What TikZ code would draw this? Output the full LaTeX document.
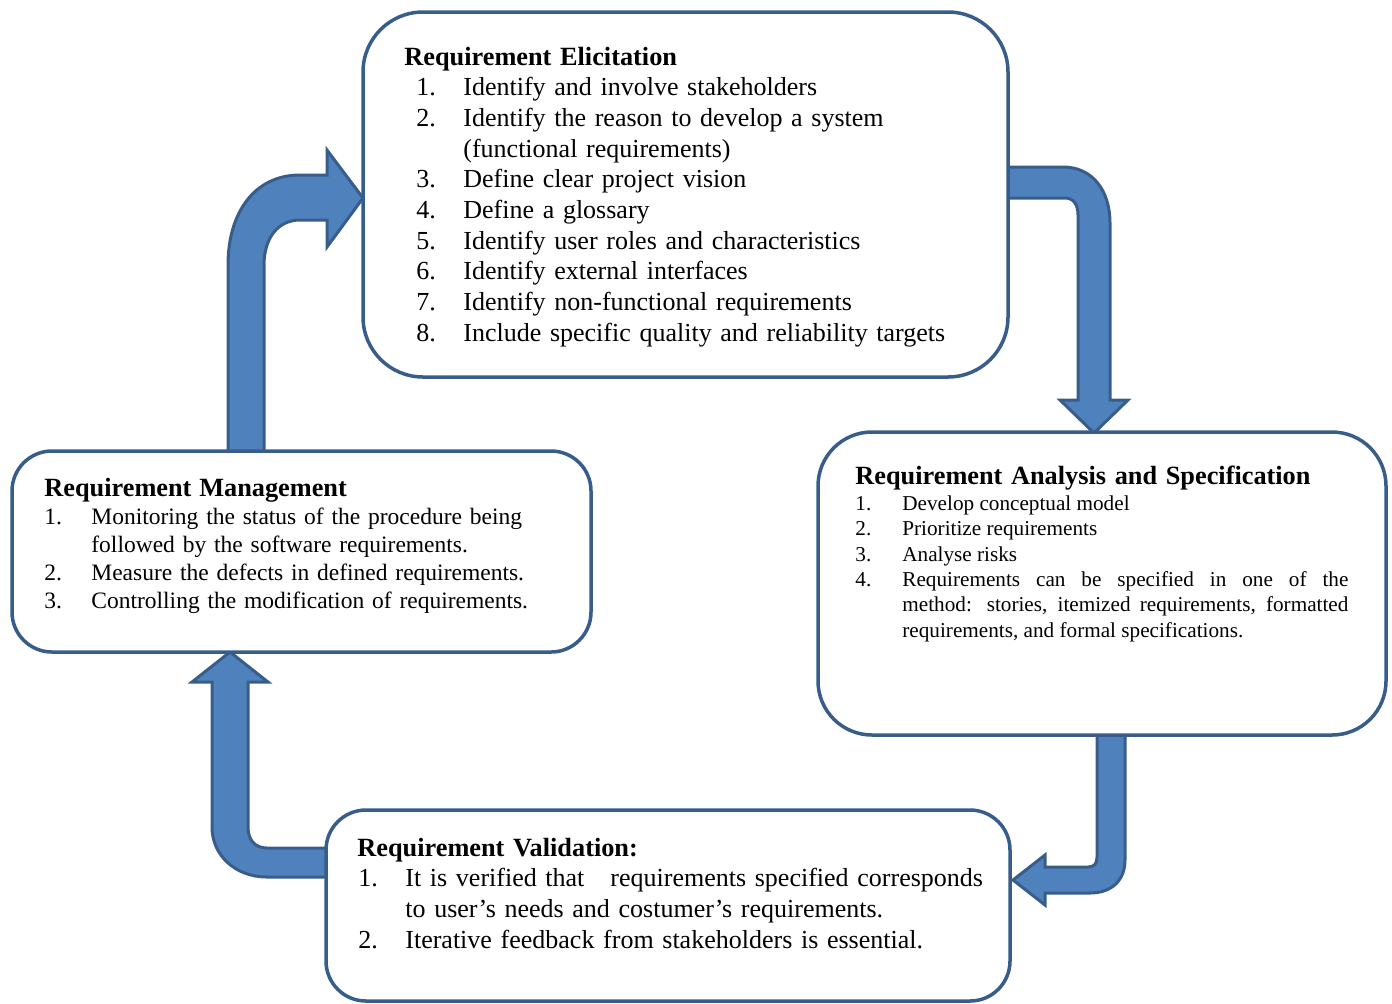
\documentclass[tikz,border=0pt]{standalone}
\usepackage{fontspec}
\setmainfont{Liberation Serif}
\definecolor{arrowfill}{HTML}{4F81BD}
\definecolor{arrowline}{HTML}{385D8A}
\newlength{\numind}
\newlength{\numgap}
\newcommand{\reqitem}[2]{\par\noindent\hangindent=\dimexpr\numind+\numgap\relax
  \hangafter=1\relax\hspace*{\numind}\makebox[\numgap][l]{#1}#2}
\newcommand{\phasetitle}[1]{\textbf{\fontsize{13.15}{\baselineskip}\selectfont #1}}
\tikzset{
  phase/.style={draw=arrowline, line width=1.75pt, fill=white, rounded corners=#1,
    inner sep=0pt, outer sep=0pt, anchor=north west},
  phase/.default=20pt,
  phasetext/.style={anchor=base west, inner sep=0pt, text width=#1},
  bigarrow/.style={fill=arrowfill, draw=arrowline, line width=1.5pt, line join=miter}
}
\begin{document}
\begin{tikzpicture}[x=0.5pt, y=-0.5pt]
\useasboundingbox (0,0) rectangle (1392,1003);

% block arrows round the cycle
\draw[bigarrow] (228,456) -- (228,265) .. controls (228,212) and (255,175) .. (300,175)
  -- (327,175) -- (327,150) -- (363,198) -- (327,247) -- (327,220) -- (300,220)
  .. controls (278,220) and (264,238) .. (264,265) -- (264,456) -- cycle;
\draw[bigarrow] (1000,167) -- (1063,167) .. controls (1092,167) and (1110,190) .. (1110,223)
  -- (1110,400) -- (1128,400) -- (1094,433) -- (1060,400) -- (1078,400) -- (1078,215)
  .. controls (1078,204) and (1073,198) .. (1065,198) -- (1000,198) -- cycle;
\draw[bigarrow] (1097,730) -- (1097,857) .. controls (1097,864) and (1094,867) .. (1088,867)
  -- (1045,867) -- (1045,855) -- (1013,880) -- (1045,905) -- (1045,893) -- (1090,893)
  .. controls (1112,893) and (1125,880) .. (1125,860) -- (1125,730) -- cycle;
\draw[bigarrow] (330,877) -- (267,877) .. controls (235,877) and (212,855) .. (212,827)
  -- (212,682) -- (192,682) -- (230,652) -- (268,682) -- (248,682) -- (248,827)
  .. controls (248,840) and (255,848) .. (267,848) -- (330,848) -- cycle;

% the four phases
\node[phase=30pt, minimum width=322.5pt, minimum height=182.5pt] (elic) at (363,12) {};
\node[phase=27pt, minimum width=284pt, minimum height=151.5pt] (anal) at (818,432) {};
\node[phase=20pt, minimum width=289.5pt, minimum height=100.5pt] (manage) at (12,451) {};
\node[phase=20pt, minimum width=342pt, minimum height=95.5pt] (valid) at (326,810) {};

\node[phasetext=290pt, font=\fontsize{13}{15.35}\selectfont] (elicText)
  at ([shift={(41,53)}]elic.north west) {%
  \setlength{\numind}{6pt}\setlength{\numgap}{23.5pt}%
  \phasetitle{Requirement Elicitation}
  \reqitem{1.}{Identify and involve stakeholders}
  \reqitem{2.}{Identify the reason to develop a system\newline(functional requirements)}
  \reqitem{3.}{Define clear project vision}
  \reqitem{4.}{Define a glossary}
  \reqitem{5.}{Identify user roles and characteristics}
  \reqitem{6.}{Identify external interfaces}
  \reqitem{7.}{Identify non-functional requirements}
  \reqitem{8.}{Include specific quality and reliability targets}\par};

\node[phasetext=247pt, font=\fontsize{13}{13.5}\selectfont] (analText)
  at ([shift={(37,52)}]anal.north west) {%
  \setlength{\numind}{0pt}\setlength{\numgap}{23.5pt}%
  \phasetitle{Requirement Analysis and Specification}\par\vspace{0.6pt}%
  \fontsize{10.6}{12.65}\selectfont\spaceskip=0pt\xspaceskip=0pt
  \reqitem{1.}{Develop conceptual model}
  \reqitem{2.}{Prioritize requirements}
  \reqitem{3.}{Analyse risks}
  \reqitem{4.}{\makebox[223pt][s]{Requirements can be specified in one of the}\newline
    \makebox[223pt][s]{method: stories, itemized requirements, formatted}\newline
    requirements, and formal specifications.}\par};

\node[phasetext=260pt, font=\fontsize{11.75}{13.85}\selectfont] (manageText)
  at ([shift={(32,45)}]manage.north west) {%
  \setlength{\numind}{0pt}\setlength{\numgap}{23.5pt}%
  \phasetitle{Requirement Management}\par\vspace{0.6pt}%
  \reqitem{1.}{Monitoring the status of the procedure being\newline followed by the software requirements.}
  \reqitem{2.}{Measure the defects in defined requirements.}
  \reqitem{3.}{Controlling the modification of requirements.}\par};

\node[phasetext=330pt, font=\fontsize{13}{15.4}\selectfont] (validText)
  at ([shift={(31,46)}]valid.north west) {%
  \setlength{\numind}{0.5pt}\setlength{\numgap}{23.5pt}%
  \phasetitle{Requirement Validation:}
  \reqitem{1.}{It is verified that~~~requirements specified corresponds\newline to user’s needs and costumer’s requirements.}
  \reqitem{2.}{Iterative feedback from stakeholders is essential.}\par};
\end{tikzpicture}
\end{document}
